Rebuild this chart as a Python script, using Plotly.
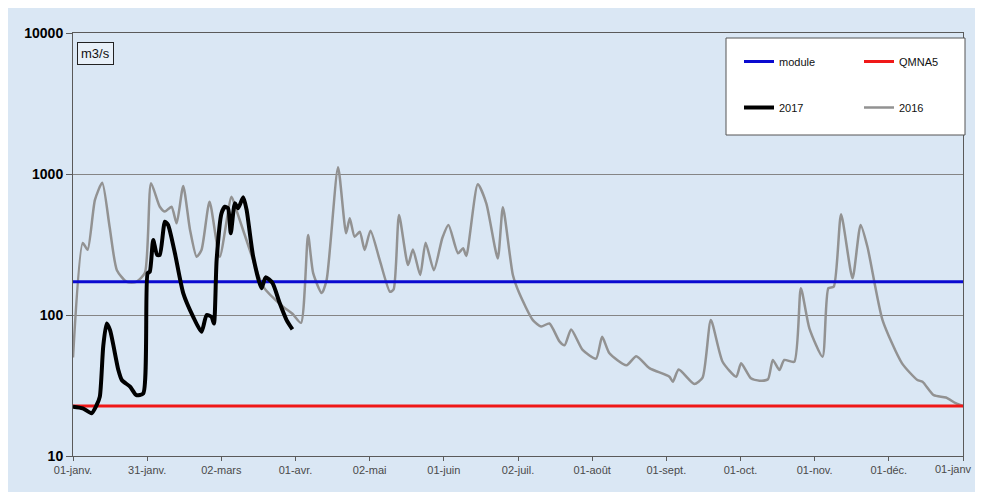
import plotly.graph_objects as go

# ---- data (day of year, m3/s) ----
tick_days = [k * 365 / 12 for k in range(13)]
tick_labels = ["01-janv.", "31-janv.", "02-mars", "01-avr.", "02-mai", "01-juin",
               "02-juil.", "01-août", "01-sept.", "01-oct.", "01-nov.", "01-déc.", "01-janv"]

module_val = 172
qmna5_val = 22.6

days_2016 = [0, 4, 6, 9, 12, 15, 18, 22, 26, 29.5, 32, 35.6, 37.7, 40.4, 42.5, 45.2, 48, 50.7,
             52.7, 56, 60.2, 65, 67, 72.5, 78, 86, 90, 93.5, 96.4, 98.5, 102, 104, 108.7, 112,
             113.5, 115.5, 117.6, 119.6, 122, 125.8, 130, 131.5, 133.7, 137.4, 139.4, 142.4,
             144.6, 148, 151.5, 154, 157.9, 160, 161.3, 166, 169.5, 174.2, 176.3, 180.4, 183,
             188.6, 192, 195.4, 199.5, 201.6, 204.3, 209, 214.5, 217, 220, 227, 231, 236.4,
             244.6, 246, 248.4, 254.8, 258.2, 261.6, 266.4, 272, 274, 278, 281.5, 285, 287,
             289.7, 291.7, 295.8, 298.5, 302, 307.4, 309.8, 312, 315, 319.7, 323, 325.8, 332,
             340, 346.3, 348.4, 353, 358, 362, 365]
vals_2016 = [50, 324, 290, 655, 867, 423, 208, 172, 172, 199, 859, 586, 541, 586, 447, 822, 401, 259,
             289, 636, 259, 690, 556, 289, 159, 115, 102, 88, 369, 198, 143, 177, 1115, 380,
             485, 359, 389, 289, 396, 245, 146, 152, 512, 226, 292, 192,
             326, 208, 353, 435, 274, 297, 262, 845, 620, 252, 580, 192, 143,
             92, 83, 87, 65, 61, 79, 56.5, 49, 70, 53.5, 44, 51, 42,
             36.5, 33.6, 41, 32.4, 36, 92, 46.6, 36.5, 45.4, 35.6, 34.2, 35, 48,
             40.7, 48, 46.6, 155, 80.5, 50.6, 155, 159, 518, 182, 435, 305, 92,
             45.4, 34.6, 33.6, 27, 26, 23.7, 22.6]

days_2017 = [0, 4, 7.6, 9.7, 11, 12.4, 13.8, 15.2, 18.6, 20, 23.4, 26, 28.8, 30.6, 31.5, 32.9,
             34.5, 35.6, 37.7, 39, 41.8, 45.2, 49.3, 52.7, 54.8, 56.8, 57.8, 58.9, 60.9, 62.3,
             63.6, 64.7, 66.4, 67.7, 69.8, 71.2, 73.9, 77.3, 79, 81.8, 84.8, 87.6, 90]
vals_2017 = [22.4, 21.8, 20.1, 23, 26.4, 60, 87, 78, 40.7, 34.6, 31, 27, 27.8, 198, 203, 340,
             267, 267, 459, 435, 274, 143, 97, 76, 100, 97, 87, 245, 526, 586,
             571, 380, 620, 571, 684, 556, 259, 155, 185, 169, 121, 92, 79]

# ---- layout geometry (page body has an 8px margin on each side) ----
OFF = 8
W, H = 983 - 2 * OFF, 492 - OFF
PL, PR, PT, PB = 73, 963, 33, 456          # plot area in page pixels
ML, MR, MT, MB = PL - OFF, (W + OFF) - PR, PT - OFF, (H + OFF) - PB
PW, PH = PR - PL, PB - PT

def px(x):
    return (x - PL) / PW

def py(y):
    return 1 - (y - PT) / PH

fig = go.Figure()

fig.add_trace(go.Scatter(x=days_2016, y=vals_2016, mode="lines", name="2016",
                         line=dict(color="#929292", width=2.5, shape="spline", smoothing=0.6),
                         legend="legend2", legendgroup="g2016", legendrank=2))
fig.add_trace(go.Scatter(x=[0, 365], y=[module_val, module_val], mode="lines", name="module",
                         line=dict(color="#0a0ad0", width=3),
                         legend="legend", legendgroup="gmod", legendrank=1))
fig.add_trace(go.Scatter(x=[0, 365], y=[qmna5_val, qmna5_val], mode="lines", name="QMNA5",
                         line=dict(color="#f01818", width=3),
                         legend="legend2", legendgroup="gq", legendrank=1))
fig.add_trace(go.Scatter(x=days_2017, y=vals_2017, mode="lines", name="2017",
                         line=dict(color="#000000", width=4, shape="spline", smoothing=0.6),
                         legend="legend", legendgroup="g2017", legendrank=2))

bg = "#dae7f4"
font_family = "Liberation Sans, Arial, sans-serif"
legend_font = dict(family=font_family, size=11, color="#111")
xtick_font = dict(family=font_family, size=11, color="#4a4a4a")

# last tick label would overflow the page edge: place it as a right-aligned annotation
shown_ticktext = tick_labels[:-1] + [""]

fig.update_layout(
    width=W, height=H,
    margin=dict(l=ML, r=MR, t=MT, b=MB, autoexpand=False),
    paper_bgcolor=bg, plot_bgcolor=bg,
    showlegend=True,
    legend=dict(x=px(739), y=py(47), xanchor="left", yanchor="top",
                bgcolor="rgba(0,0,0,0)", borderwidth=0, font=legend_font,
                tracegroupgap=27, itemwidth=30, traceorder="grouped"),
    legend2=dict(x=px(859), y=py(47), xanchor="left", yanchor="top",
                 bgcolor="rgba(0,0,0,0)", borderwidth=0, font=legend_font,
                 tracegroupgap=27, itemwidth=30, traceorder="grouped"),
    xaxis=dict(range=[0, 365], tickmode="array", tickvals=tick_days, ticktext=shown_ticktext,
               showgrid=False, zeroline=False, showline=True, linecolor="#5a5a5a",
               linewidth=1, mirror=True, ticks="outside", ticklen=4, tickcolor="#5a5a5a",
               automargin=False, tickfont=xtick_font),
    yaxis=dict(type="log", range=[1, 4], tickmode="array", tickvals=[10, 100, 1000, 10000],
               ticktext=["10", "100", "1000", "10000"], automargin=False,
               showgrid=True, gridcolor="#858585", gridwidth=1, zeroline=False,
               showline=True, linecolor="#5a5a5a", linewidth=1, mirror=True,
               ticks="outside", ticklen=6, tickcolor="#5a5a5a",
               tickfont=dict(family=font_family, size=14, color="#000", weight="bold")),
    shapes=[
        # legend box
        dict(type="rect", xref="paper", yref="paper", x0=px(726), x1=px(965),
             y0=py(135), y1=py(38), fillcolor="white", line=dict(color="#555", width=1),
             layer="above"),
    ],
    annotations=[
        dict(text="m3/s", xref="paper", yref="paper", x=px(77), y=py(42), xanchor="left",
             yanchor="top", showarrow=False, bordercolor="#222", borderwidth=1, borderpad=3,
             bgcolor="#e8f0f8", font=dict(family=font_family, size=13, color="#111")),
        dict(text=tick_labels[-1], xref="paper", yref="paper", x=px(974), y=py(469),
             xanchor="right", yanchor="middle", showarrow=False, font=xtick_font),
    ],
)

fig.write_html("out.html")
